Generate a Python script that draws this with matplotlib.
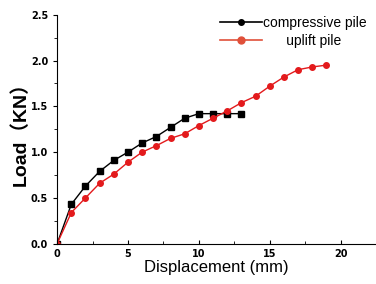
import matplotlib
matplotlib.use("Agg")
import matplotlib.pyplot as plt
from matplotlib.lines import Line2D
from matplotlib.ticker import MultipleLocator

# desplazamientos (mm) y cargas (KN)
disp_comp = [0, 1, 2, 3, 4, 5, 6, 7, 8, 9, 10, 11, 12, 13]
load_comp = [0, 0.43, 0.63, 0.79, 0.91, 1.00, 1.10, 1.17, 1.27, 1.37, 1.42, 1.42, 1.42, 1.42]

disp_up = list(range(0, 20))
load_up = [0, 0.34, 0.50, 0.66, 0.76, 0.89, 1.00, 1.07, 1.15, 1.20, 1.29, 1.37,
           1.45, 1.54, 1.61, 1.72, 1.82, 1.90, 1.93, 1.95]

red = "#e31a1c"

fig = plt.figure(figsize=(3.76, 2.84), dpi=100)
ax = fig.add_axes([0.152, 0.142, 0.848, 0.806])

ax.plot(disp_comp, load_comp, color="black", lw=1, marker="s", ms=4)
ax.plot(disp_up, load_up, color=red, lw=1, marker="o", ms=4)

ax.set_xlim(0, 22.5)
ax.set_ylim(0, 2.5)
ax.xaxis.set_major_locator(MultipleLocator(5))
ax.xaxis.set_minor_locator(MultipleLocator(2.5))
ax.yaxis.set_major_locator(MultipleLocator(0.5))
ax.yaxis.set_minor_locator(MultipleLocator(0.25))
ax.tick_params(axis="x", which="both", direction="in")
ax.tick_params(axis="y", which="both", direction="out")
ax.tick_params(which="major", length=3, width=0.8)
ax.tick_params(which="minor", length=2, width=0.6)
for lab in ax.get_xticklabels() + ax.get_yticklabels():
    lab.set_fontsize(7)
    lab.set_fontweight("bold")

ax.spines["top"].set_visible(False)
ax.spines["right"].set_visible(False)

ax.set_xlabel("Displacement (mm)", fontsize=12, family=["Liberation Sans", "DejaVu Sans"], labelpad=1)
ax.set_ylabel("Load（KN）", fontsize=14, fontweight="bold",
              family=["Liberation Sans", "Noto Sans CJK SC"], labelpad=1)

handles = [Line2D([], [], color="black", marker="o", ms=4, lw=1.2),
           Line2D([], [], color="#e0503a", marker="o", ms=5, lw=1.2)]
leg = ax.legend(handles, ["compressive pile", "      uplift pile"], loc="upper right",
                bbox_to_anchor=(1.01, 1.05), frameon=False,
                handlelength=3.0, handletextpad=0.1, labelspacing=0.3,
                prop={"family": ["Liberation Sans", "DejaVu Sans"], "size": 10})

fig.savefig("out.png", dpi=100)
